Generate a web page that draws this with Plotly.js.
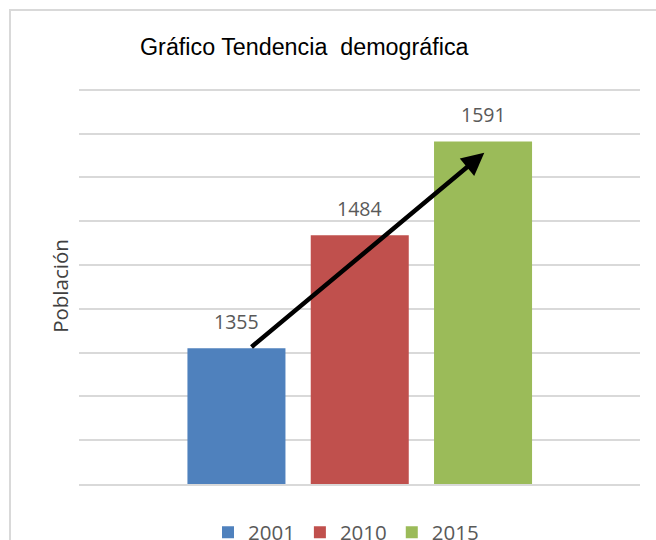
<!DOCTYPE html>
<html>
<head>
<meta charset="utf-8">
<script src="https://cdn.plot.ly/plotly-3.0.1.min.js"></script>
<style>
  html, body { margin: 0; padding: 0; background: #ffffff; }
  #chart { width: 656px; height: 540px; }
</style>
</head>
<body>
<div id="chart"></div>
<script>
// Data
const years = ["2001", "2010", "2015"];
const population = [1355, 1484, 1591];
const colors = ["#4f81bd", "#c0504d", "#9bbb59"];
const yTickStep = 50;
const yMin = 1200;
const yMax = 1650;
const chartTitle = "Gráfico Tendencia  demográfica";
const yTitle = "Población";

const traces = years.map((yr, i) => ({
  type: "bar",
  name: yr,
  x: [yr],
  y: [population[i]],
  width: 0.795,
  marker: { color: colors[i] },
  hoverinfo: "none"
}));

const labelFont = { family: "Open Sans, sans-serif", size: 19.5, color: "#595959" };

// data labels (category index positions on the category axis)
const annotations = years.map((yr, i) => ({
  xref: "x", yref: "y",
  x: i, y: population[i],
  text: String(population[i]),
  showarrow: false,
  yanchor: "bottom",
  yshift: 11,
  font: labelFont
}));

// trend arrow from first bar to last bar
annotations.push({
  xref: "x", yref: "y", axref: "x", ayref: "y",
  x: 2.01, y: 1578,
  ax: 0.11, ay: population[0],
  text: "",
  showarrow: true,
  arrowhead: 2,
  arrowsize: 1,
  arrowwidth: 4.5,
  arrowcolor: "#000000",
  standoff: 0,
  startstandoff: 0
});

const layout = {
  width: 656,
  height: 540,
  margin: { l: 79, r: 16, t: 88, b: 56, autoexpand: false },
  paper_bgcolor: "#ffffff",
  plot_bgcolor: "#ffffff",
  barmode: "overlay",
  showlegend: true,
  title: {
    text: chartTitle,
    font: { family: "Liberation Sans, Arial, sans-serif", size: 23.3, color: "#000000" },
    xref: "container", yref: "container",
    x: 140 / 656, xanchor: "left",
    y: 1 - 47 / 540, yanchor: "middle"
  },
  xaxis: {
    type: "category",
    range: [-1.277, 3.273],
    showticklabels: false,
    showgrid: false,
    zeroline: false,
    showline: true,
    linecolor: "#d9d9d9",
    linewidth: 2,
    ticks: "",
    fixedrange: true
  },
  yaxis: {
    range: [yMin, yMax + 2],
    dtick: yTickStep,
    tick0: yMin,
    showticklabels: false,
    ticks: "",
    showgrid: true,
    gridcolor: "#d9d9d9",
    gridwidth: 2,
    zeroline: false,
    showline: false,
    fixedrange: true,
    title: {
      text: yTitle,
      standoff: 3,
      font: { family: "Open Sans, sans-serif", size: 20.5, color: "#404040" }
    }
  },
  legend: {
    orientation: "h",
    x: (346 - 79) / 561, xanchor: "center",
    y: -0.122, yanchor: "middle",
    font: { family: "Open Sans, sans-serif", size: 20.5, color: "#595959" },
    bgcolor: "rgba(0,0,0,0)"
  },
  annotations: annotations,
  shapes: [{
    type: "rect",
    xref: "paper", yref: "paper",
    x0: (10 - 79) / 561, x1: 1.4,
    y0: -0.4, y1: (484 - 10) / 396,
    line: { color: "#d9d9d9", width: 2 },
    fillcolor: "rgba(0,0,0,0)",
    layer: "below"
  }]
};

Plotly.newPlot("chart", traces, layout, { displayModeBar: false, staticPlot: true });
</script>
</body>
</html>
